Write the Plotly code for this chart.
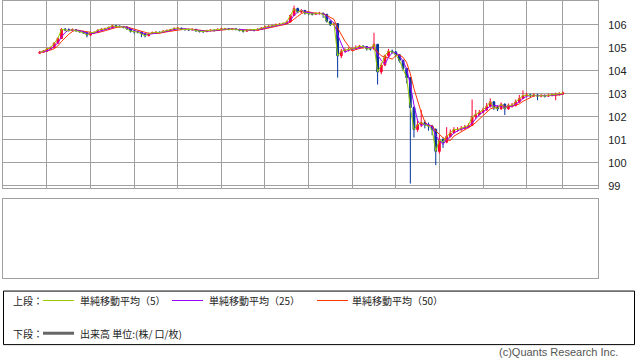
import pandas as pd
import plotly.graph_objects as go

# ---------------- data (10-minute bars) ----------------
close = [104.80, 104.85, 104.95, 105.00, 105.20, 105.40, 105.80, 105.78, 105.75, 105.78,
         105.74, 105.70, 105.65, 105.55, 105.65, 105.66, 105.76, 105.80, 105.82, 105.88,
         105.95, 105.93, 105.92, 105.90, 105.82, 105.72, 105.70, 105.68, 105.60, 105.52,
         105.62, 105.66, 105.67, 105.66, 105.72, 105.75, 105.78, 105.84, 105.85, 105.80,
         105.79, 105.78, 105.80, 105.74, 105.71, 105.70, 105.74, 105.76, 105.75, 105.80,
         105.82, 105.82, 105.80, 105.81, 105.80, 105.76, 105.72, 105.77, 105.78, 105.76,
         105.80, 105.85, 105.90, 105.93, 105.95, 106.00, 106.02, 106.05, 106.12, 106.40,
         106.70, 106.55, 106.62, 106.50, 106.48, 106.46, 106.48, 106.50, 106.45, 106.15,
         106.00, 106.05, 104.65, 104.85, 104.90, 104.92, 104.95, 105.00, 105.07, 105.05,
         104.95, 104.95, 105.15, 103.95, 104.25, 104.65, 104.85, 104.82, 104.70, 104.45,
         104.10, 103.70, 102.40, 101.45, 101.65, 101.75, 101.65, 101.60, 101.45, 100.50,
         101.00, 100.90, 101.15, 101.30, 101.45, 101.45, 101.50, 101.55, 101.62, 102.00,
         102.10, 102.20, 102.30, 102.45, 102.65, 102.40, 102.35, 102.55, 102.35, 102.50,
         102.50, 102.65, 102.80, 102.92, 102.95, 102.92, 102.95, 102.90, 102.92, 102.90,
         102.93, 102.95, 102.98, 103.00, 103.03]
high = [104.86, 104.90, 105.00, 105.05, 105.25, 105.45, 105.85, 105.86, 105.84, 105.84,
        105.80, 105.76, 105.72, 105.66, 105.70, 105.72, 105.80, 105.85, 105.87, 105.92,
        106.00, 105.99, 105.97, 105.95, 105.91, 105.84, 105.76, 105.74, 105.70, 105.62,
        105.66, 105.70, 105.71, 105.71, 105.76, 105.79, 105.82, 105.88, 105.89, 105.87,
        105.83, 105.82, 105.84, 105.81, 105.76, 105.75, 105.78, 105.80, 105.79, 105.84,
        105.86, 105.86, 105.85, 105.85, 105.84, 105.82, 105.78, 105.81, 105.82, 105.81,
        105.84, 105.90, 105.96, 105.98, 106.00, 106.05, 106.07, 106.10, 106.18, 106.46,
        106.83, 106.74, 106.68, 106.64, 106.54, 106.52, 106.53, 106.56, 106.52, 106.47,
        106.18, 106.10, 106.05, 104.95, 104.98, 105.00, 105.02, 105.10, 105.12, 105.10,
        105.06, 105.02, 105.65, 105.15, 104.35, 104.70, 104.95, 104.92, 104.85, 104.72,
        104.48, 104.12, 103.72, 102.45, 101.90, 102.30, 101.85, 101.75, 101.65, 101.50,
        101.20, 101.10, 101.55, 101.45, 101.55, 101.55, 101.60, 101.65, 101.72, 102.75,
        102.30, 102.30, 102.40, 102.60, 102.80, 102.68, 102.50, 102.62, 102.58, 102.58,
        102.60, 102.75, 102.95, 103.15, 103.05, 103.00, 103.02, 103.00, 102.99, 102.97,
        103.00, 103.02, 103.05, 103.07, 103.10]
low = [104.74, 104.78, 104.82, 104.92, 104.98, 105.18, 105.38, 105.72, 105.70, 105.72,
       105.70, 105.65, 105.60, 105.45, 105.52, 105.60, 105.64, 105.74, 105.77, 105.80,
       105.86, 105.88, 105.87, 105.84, 105.78, 105.66, 105.62, 105.62, 105.46, 105.45,
       105.50, 105.60, 105.62, 105.62, 105.64, 105.70, 105.73, 105.76, 105.80, 105.76,
       105.74, 105.73, 105.75, 105.69, 105.66, 105.65, 105.68, 105.71, 105.70, 105.73,
       105.77, 105.78, 105.76, 105.76, 105.75, 105.71, 105.66, 105.70, 105.73, 105.71,
       105.74, 105.78, 105.84, 105.87, 105.89, 105.93, 105.96, 105.98, 106.03, 106.10,
       106.38, 106.50, 106.50, 106.44, 106.42, 106.40, 106.42, 106.44, 106.30, 106.10,
       105.94, 105.95, 103.70, 104.55, 104.80, 104.84, 104.86, 104.92, 104.98, 104.97,
       104.88, 104.88, 104.90, 103.40, 103.85, 104.20, 104.60, 104.75, 104.62, 104.35,
       104.00, 103.45, 99.10, 101.10, 101.35, 101.55, 101.50, 101.40, 101.20, 99.90,
       100.40, 100.65, 100.85, 101.10, 101.28, 101.35, 101.38, 101.45, 101.50, 101.60,
       101.90, 102.05, 102.15, 102.25, 102.40, 102.30, 102.25, 102.30, 102.08, 102.30,
       102.40, 102.45, 102.60, 102.78, 102.85, 102.84, 102.86, 102.72, 102.85, 102.84,
       102.86, 102.88, 102.72, 102.92, 102.95]
first_open = 104.76
ma_names = ["単純移動平均（5）", "単純移動平均（25）", "単純移動平均（50）"]
ma_windows = ["5min", "25min", "50min"]
tick_times = ["2020-03-08 19:00", "2020-03-08 21:00", "2020-03-08 23:00", "2020-03-09 01:00",
              "2020-03-09 03:00", "2020-03-09 05:00", "2020-03-09 07:00", "2020-03-09 09:00",
              "2020-03-09 11:00", "2020-03-09 13:00", "2020-03-09 15:00", "2020-03-09 17:00",
              "2020-03-09 18:40"]
tick_text = ["19:00", "21:00", "23:00", "1:00", "3:00", "5:00", "7:00", "9:00",
             "11:00", "13:00", "15:00", "17:00", "18:40"]
price_ticks = [99, 100, 101, 102, 103, 104, 105, 106]

# ---------------- build ----------------
W, H = 638, 362
times = pd.date_range("2020-03-08 18:40", periods=len(close), freq="10min")
open_ = [first_open] + close[:-1]
high_c = [max(h, o, c) for h, o, c in zip(high, open_, close)]
low_c = [min(l, o, c) for l, o, c in zip(low, open_, close)]
s = pd.Series(close, index=times)

RED = "#ff0033"
BLUE = "#003399"
MA_COLORS = ["#99cc00", "#9900ff", "#ff3300"]
GRID = "#a0a0a0"

fig = go.Figure()
fig.add_trace(go.Candlestick(
    x=times, open=open_, high=high_c, low=low_c, close=close,
    increasing=dict(line=dict(color=RED, width=1), fillcolor=RED),
    decreasing=dict(line=dict(color=BLUE, width=1), fillcolor=BLUE),
    whiskerwidth=0, showlegend=False, xaxis="x", yaxis="y", hoverinfo="skip"))

for name, win, col in reversed(list(zip(ma_names, ma_windows, MA_COLORS))):
    ma = s.rolling(win, min_periods=1).mean()
    fig.add_trace(go.Scatter(x=times, y=ma.values, mode="lines", name=name,
                             line=dict(color=col, width=1), showlegend=False,
                             xaxis="x", yaxis="y"))

# empty volume pane
fig.add_trace(go.Bar(x=[], y=[], xaxis="x2", yaxis="y2", showlegend=False,
                     marker_color="#666666"))

def px_x(p):
    return p / W

def px_y(p):
    return (H - p) / H

xr = ["2020-03-08 16:59", "2020-03-09 20:16:30"]
tickfont = dict(family="Liberation Sans, Arial, sans-serif", size=11, color="#222")

fig.update_layout(
    width=W, height=H, margin=dict(l=0, r=0, t=0, b=0),
    paper_bgcolor="white", plot_bgcolor="white",
    xaxis=dict(domain=[px_x(3), px_x(598)], range=xr, anchor="y",
               tickvals=tick_times, showticklabels=False, showgrid=True,
               gridcolor=GRID, gridwidth=1, showline=True, linecolor=GRID,
               mirror=True, zeroline=False, rangeslider=dict(visible=False), ticks=""),
    yaxis=dict(domain=[px_y(190), px_y(1)], range=[98.89, 107.03], side="right",
               tickvals=price_ticks, showgrid=True, gridcolor=GRID, gridwidth=1,
               showline=True, linecolor=GRID, mirror=True, zeroline=False,
               ticks="", tickfont=tickfont, ticklabelstandoff=7),
    xaxis2=dict(domain=[px_x(3), px_x(598)], range=xr, anchor="y2",
                tickvals=tick_times, ticktext=tick_text, showgrid=True,
                gridcolor=GRID, gridwidth=1, showline=True, linecolor=GRID,
                mirror=True, zeroline=False, ticks="", tickfont=tickfont,
                ticklabelstandoff=-2),
    yaxis2=dict(domain=[px_y(280), px_y(201)], range=[0, 1], showticklabels=False,
                showgrid=False, showline=True, linecolor=GRID, mirror=True,
                zeroline=False, ticks="", side="right"),
    showlegend=False,
)

# legend box
shapes = [dict(type="rect", xref="paper", yref="paper", x0=px_x(3.5), x1=px_x(634.5),
               y0=px_y(347.5), y1=px_y(293.5), line=dict(color="black", width=1))]
jp = dict(family="Noto Sans CJK JP", size=10, color="#222")
ann = []
row1, row2 = 303, 336
ann.append(dict(text="上段：", x=px_x(11), y=px_y(row1)))
ann.append(dict(text="下段：", x=px_x(11), y=px_y(row2)))
seg = [(43, 74, 78), (172, 203, 207), (317, 348, 350)]
for (a, b, t), name, col in zip(seg, ma_names, MA_COLORS):
    shapes.append(dict(type="line", xref="paper", yref="paper", x0=px_x(a), x1=px_x(b),
                       y0=px_y(row1), y1=px_y(row1), line=dict(color=col, width=1)))
    ann.append(dict(text=name, x=px_x(t), y=px_y(row1)))
shapes.append(dict(type="line", xref="paper", yref="paper", x0=px_x(43), x1=px_x(74),
                   y0=px_y(row2), y1=px_y(row2), line=dict(color="#666666", width=3)))
ann.append(dict(text="出来高 単位:(株/ 口/枚)", x=px_x(78), y=px_y(row2)))
annotations = [dict(xref="paper", yref="paper", xanchor="left", yanchor="middle",
                    showarrow=False, font=jp, **a) for a in ann]
annotations.append(dict(xref="paper", yref="paper", x=px_x(620), y=px_y(355),
                        xanchor="right", yanchor="middle", showarrow=False,
                        text="(c)Quants Research Inc.",
                        font=dict(family="Liberation Sans, Arial, sans-serif", size=11,
                                  color="#555")))
fig.update_layout(shapes=shapes, annotations=annotations)

fig.write_html("out.html")
